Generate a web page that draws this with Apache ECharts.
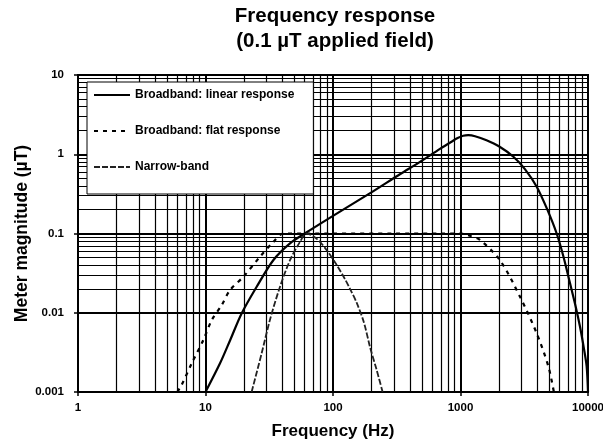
<!DOCTYPE html>
<html>
<head>
<meta charset="utf-8">
<script src="https://cdn.jsdelivr.net/npm/echarts@6/dist/echarts.min.js"></script>
<style>
html,body{margin:0;padding:0;background:#fff;}
#c{width:603px;height:442px;}
</style>
</head>
<body>
<div id="c"></div>
<script>
// ---- data ----
const titleLines = ['Frequency response', '(0.1 \u00b5T applied field)'];
const xAxisName = 'Frequency (Hz)';
const yAxisName = 'Meter magnitude (\u00b5T)';
const seriesNames = ['Broadband: linear response', 'Broadband: flat response', 'Narrow-band'];

const xTickLabels = ['1', '10', '100', '1000', '10000'];
const yTickLabels = ['0.001', '0.01', '0.1', '1', '10'];

// minor grid values (2..9 per decade)
const xMinorGrid = [2,3,4,5,6,7,8,9, 20,30,40,50,60,70,80,90, 200,300,400,500,600,700,800,900, 2000,3000,4000,5000,6000,7000,8000,9000];
const yMinorGrid = [0.002,0.003,0.004,0.005,0.006,0.007,0.008,0.009, 0.02,0.03,0.04,0.05,0.06,0.07,0.08,0.09, 0.2,0.3,0.4,0.5,0.6,0.7,0.8,0.9, 2,3,4,5,6,7,8,9];

const linearFreq = [10, 13, 15.6, 19.2, 25.2, 34, 46, 60, 100, 200, 335, 481, 690, 850, 950, 1050, 1150, 1300, 1600, 2000, 2600, 3200, 3960, 4800, 5680, 6400, 7230, 8000, 8650, 9300, 9760, 10000];
const linearVal  = [0.001, 0.0023, 0.0045, 0.0098, 0.0213, 0.046, 0.075, 0.1, 0.167, 0.33, 0.56, 0.80, 1.17, 1.44, 1.6, 1.71, 1.74, 1.69, 1.5, 1.26, 0.93, 0.65, 0.39, 0.2, 0.1, 0.052, 0.0235, 0.012, 0.0067, 0.0035, 0.0021, 0.001];

const flatFreq = [6, 6.5, 7.8, 9.6, 11.2, 13.4, 15.6, 19.8, 26.8, 34, 41, 100, 300, 700, 1000, 1200, 1420, 2040, 2930, 3960, 4890, 5400];
const flatVal  = [0.001, 0.00123, 0.0023, 0.0045, 0.0081, 0.0125, 0.0194, 0.0284, 0.051, 0.078, 0.1, 0.1, 0.1, 0.1, 0.1, 0.093, 0.083, 0.046, 0.0159, 0.0055, 0.0021, 0.001];

const narrowFreq = [23, 27.6, 32, 38.4, 46, 55, 62, 75, 89, 107, 125, 136, 153, 175, 195, 220, 245];
const narrowVal  = [0.001, 0.0031, 0.0081, 0.0213, 0.046, 0.078, 0.1, 0.085, 0.062, 0.04, 0.026, 0.02, 0.0135, 0.0075, 0.0037, 0.0019, 0.001];

// ---- chart ----
const zip = (a, b) => a.map((v, i) => [v, b[i]]);
const fmt = labels => v => {
  const l = labels.find(s => Math.abs(Math.log10(Number(s)) - Math.log10(v)) < 1e-6);
  return l === undefined ? '' : l;
};
const font = 'Arial, "Liberation Sans", Helvetica, sans-serif';

const chart = echarts.init(document.getElementById('c'), null, {renderer: 'canvas'});
chart.setOption({
  animation: false,
  backgroundColor: '#fff',
  graphic: [
    {type: 'text', x: 335, y: 16, style: {text: titleLines[0], align: 'center', verticalAlign: 'middle', font: 'bold 20.5px ' + font, fill: '#000'}},
    {type: 'text', x: 335, y: 41, style: {text: titleLines[1], align: 'center', verticalAlign: 'middle', font: 'bold 20.5px ' + font, fill: '#000'}}
  ],
  grid: {left: 78, right: 15, top: 75, bottom: 50, outerBoundsMode: 'none', containLabel: false, show: true, borderColor: '#000', borderWidth: 2, backgroundColor: 'transparent'},
  legend: {
    data: seriesNames,
    orient: 'vertical',
    left: 87, top: 82,
    padding: [7, 19, 21, 6],
    itemGap: 24,
    itemWidth: 36, itemHeight: 14,
    backgroundColor: '#fff',
    borderColor: '#000', borderWidth: 1,
    itemStyle: {opacity: 0},
    textStyle: {fontFamily: font, fontWeight: 'bold', fontSize: 12, color: '#000'},
    z: 10
  },
  xAxis: {
    type: 'log', logBase: 10, min: 1, max: 10000,
    name: xAxisName, nameLocation: 'middle', nameGap: 31,
    nameTextStyle: {fontFamily: font, fontWeight: 'bold', fontSize: 17, color: '#000'},
    axisLine: {show: true, lineStyle: {color: '#000', width: 2}},
    axisTick: {show: true, inside: false, length: 4, lineStyle: {color: '#000', width: 1.5}},
    axisLabel: {formatter: fmt(xTickLabels), fontFamily: font, fontWeight: 'bold', fontSize: 11.5, color: '#000', margin: 10},
    splitLine: {show: true, lineStyle: {color: '#000', width: 2}}
  },
  yAxis: {
    type: 'log', logBase: 10, min: 0.001, max: 10,
    name: yAxisName, nameLocation: 'middle', nameGap: 47, nameMoveOverlap: false,
    nameTextStyle: {fontFamily: font, fontWeight: 'bold', fontSize: 17.5, color: '#000'},
    axisLine: {show: true, lineStyle: {color: '#000', width: 2}},
    axisTick: {show: true, inside: false, length: 4, lineStyle: {color: '#000', width: 1.5}},
    axisLabel: {formatter: fmt(yTickLabels), fontFamily: font, fontWeight: 'bold', fontSize: 11.5, color: '#000', margin: 14},
    splitLine: {show: true, lineStyle: {color: '#000', width: 2}}
  },
  series: [
    {
      name: 'grid', type: 'line', data: [[1, 0.001]], symbol: 'none', silent: true,
      lineStyle: {width: 0}, z: 1,
      markLine: {
        silent: true, symbol: ['none', 'none'], label: {show: false},
        lineStyle: {color: '#000', width: 1.2, type: 'solid'},
        emphasis: {disabled: true},
        data: xMinorGrid.map(v => ({xAxis: v})).concat(yMinorGrid.map(v => ({yAxis: v})))
      }
    },
    {
      name: seriesNames[0], type: 'line', data: zip(linearFreq, linearVal),
      symbol: 'none', smooth: 0.3, z: 5,
      lineStyle: {color: '#000', width: 2.2, type: 'solid'}, itemStyle: {color: '#000'}
    },
    {
      name: seriesNames[1], type: 'line', data: zip(flatFreq, flatVal),
      symbol: 'none', smooth: 0.3, z: 5,
      lineStyle: {color: '#000', width: 2.2, type: [4, 5]}, itemStyle: {color: '#000'}
    },
    {
      name: seriesNames[2], type: 'line', data: zip(narrowFreq, narrowVal),
      symbol: 'none', smooth: 0.3, z: 5,
      lineStyle: {color: '#222', width: 1.8, type: [6, 2]}, itemStyle: {color: '#222'}
    }
  ]
});
</script>
</body>
</html>
